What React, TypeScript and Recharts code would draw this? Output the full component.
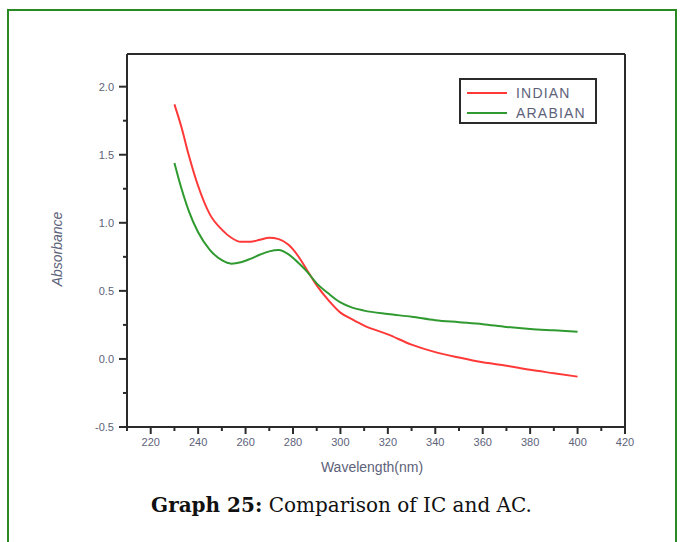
import React from 'react';
import { Line, LineChart, ReferenceLine, XAxis, YAxis } from 'recharts';

const wavelengths = [230, 233, 236, 240, 245, 250, 254, 258, 262, 266, 270, 274, 278, 282, 286, 290, 295, 300, 305, 310, 320, 330, 340, 350, 360, 370, 380, 390, 400];
const indian = [1.87, 1.7, 1.5, 1.27, 1.06, 0.95, 0.89, 0.86, 0.86, 0.875, 0.89, 0.88, 0.84, 0.76, 0.65, 0.54, 0.43, 0.34, 0.29, 0.245, 0.18, 0.105, 0.05, 0.01, -0.025, -0.05, -0.08, -0.105, -0.13];
const arabian = [1.44, 1.25, 1.09, 0.93, 0.8, 0.725, 0.7, 0.71, 0.735, 0.765, 0.79, 0.8, 0.77, 0.71, 0.64, 0.555, 0.48, 0.415, 0.377, 0.355, 0.33, 0.31, 0.285, 0.27, 0.255, 0.235, 0.22, 0.21, 0.2];

const seriesNames = ['INDIAN', 'ARABIAN'];
const seriesColors = ['#ff3838', '#2f9a2f'];

const xTicks = [210, 220, 230, 240, 250, 260, 270, 280, 290, 300, 310, 320, 330, 340, 350, 360, 370, 380, 390, 400, 410, 420];
const yTicks = [-0.5, -0.25, 0, 0.25, 0.5, 0.75, 1.0, 1.25, 1.5, 1.75, 2.0];
const xDomain: [number, number] = [210, 420];
const yDomain: [number, number] = [-0.5, 2.24];

const data = wavelengths.map((nm, i) => ({ nm, indian: indian[i], arabian: arabian[i] }));

const axisColor = '#2b2b2b';
const labelColor = '#5d627a';
const font = '"Liberation Sans", Arial, sans-serif';

function XTick({ x, y, payload }: any) {
  const v = payload.value as number;
  const major = v % 20 === 0;
  return (
    <g>
      <line x1={x} x2={x} y1={y} y2={y + (major ? 7 : 4)} stroke={axisColor} strokeWidth={2} />
      {major && (
        <text x={x} y={y + 19} textAnchor="middle" fontSize={11} fontFamily={font} fill={labelColor}>
          {v}
        </text>
      )}
    </g>
  );
}

function YTick({ x, y, payload }: any) {
  const v = payload.value as number;
  const major = Math.abs(v * 2 - Math.round(v * 2)) < 1e-6;
  return (
    <g>
      <line x1={x} x2={x - (major ? 8 : 4)} y1={y} y2={y} stroke={axisColor} strokeWidth={2} />
      {major && (
        <text x={x - 13} y={y + 4} textAnchor="end" fontSize={11} fontFamily={font} fill={labelColor}>
          {v.toFixed(1)}
        </text>
      )}
    </g>
  );
}

export default function App() {
  return (
    <div style={{ position: 'absolute', left: 0, top: 0, width: 683, height: 542, background: '#fff', overflow: 'hidden' }}>
      <div
        style={{
          position: 'absolute',
          left: 7,
          top: 9,
          width: 666,
          height: 600,
          border: '2px solid #2a8a22',
        }}
      />
      <div style={{ position: 'absolute', left: 0, top: 0 }}>
        <LineChart width={683} height={542} data={data} margin={{ top: 54, right: 58, bottom: 0, left: 0 }}>
          <XAxis
            dataKey="nm"
            type="number"
            domain={xDomain}
            ticks={xTicks}
            interval={0}
            height={115}
            tickSize={0}
            tickMargin={0}
            tick={<XTick />}
            axisLine={{ stroke: axisColor, strokeWidth: 2 }}
          />
          <YAxis
            type="number"
            domain={yDomain}
            ticks={yTicks}
            interval={0}
            width={127}
            tickSize={0}
            tickMargin={0}
            tick={<YTick />}
            axisLine={{ stroke: axisColor, strokeWidth: 2 }}
          />
          <ReferenceLine y={yDomain[1]} stroke={axisColor} strokeWidth={2} />
          <ReferenceLine x={xDomain[1]} stroke={axisColor} strokeWidth={2} />
          <Line type="monotone" dataKey="indian" stroke={seriesColors[0]} strokeWidth={2} dot={false} isAnimationActive={false} />
          <Line type="monotone" dataKey="arabian" stroke={seriesColors[1]} strokeWidth={2} dot={false} isAnimationActive={false} />
        </LineChart>
      </div>
      <div
        style={{
          position: 'absolute',
          left: 459,
          top: 78,
          width: 134,
          height: 42,
          border: `2px solid ${axisColor}`,
          background: '#fff',
          fontFamily: font,
        }}
      >
        {seriesNames.map((name, i) => (
          <div key={name} style={{ position: 'absolute', left: 6, top: 5 + i * 20, height: 16, display: 'flex', alignItems: 'center' }}>
            <div style={{ width: 40, height: 2, background: seriesColors[i] }} />
            <span style={{ marginLeft: 9, fontSize: 14, letterSpacing: 1.2, color: labelColor, lineHeight: '16px' }}>{name}</span>
          </div>
        ))}
      </div>
      <div
        style={{
          position: 'absolute',
          left: 272,
          top: 459,
          width: 200,
          textAlign: 'center',
          fontFamily: font,
          fontSize: 14,
          color: labelColor,
        }}
      >
        Wavelength(nm)
      </div>
      <div
        style={{
          position: 'absolute',
          left: 7,
          top: 241,
          width: 100,
          textAlign: 'center',
          fontFamily: font,
          fontSize: 14,
          fontStyle: 'italic',
          color: labelColor,
          transform: 'rotate(-90deg)',
        }}
      >
        Absorbance
      </div>
      <div
        style={{
          position: 'absolute',
          left: 0,
          top: 490,
          width: 683,
          textAlign: 'center',
          fontFamily: '"DejaVu Serif", serif',
          fontSize: 20,
          lineHeight: '30px',
          color: '#111',
        }}
      >
        <b>Graph 25:</b> Comparison of IC and AC.
      </div>
    </div>
  );
}
